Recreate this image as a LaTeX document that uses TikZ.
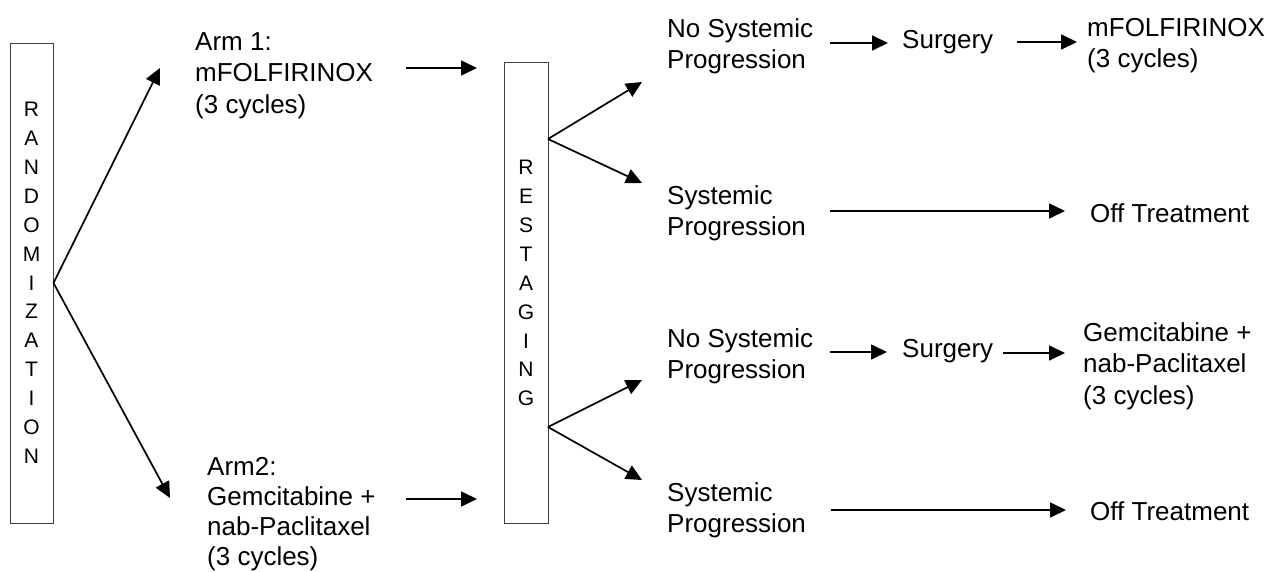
\documentclass[tikz,border=0pt]{standalone}
\usepackage{fontspec}
\setmainfont{Liberation Sans}
\usetikzlibrary{arrows.meta}
\tikzset{
  label text/.style={anchor=north west, inner sep=0pt, align=left,
    font=\fontsize{26}{31.5}\selectfont},
  letter stack/.style={anchor=north, inner sep=0pt, align=center,
    font=\fontsize{21}{28.9}\selectfont},
  frame/.style={draw=black!75, line width=1pt, inner sep=0pt},
  flow/.style={line width=1.7pt, -{Triangle[length=16pt,width=15pt]}},
}
\begin{document}
\begin{tikzpicture}[x=1pt,y=-1pt]
\useasboundingbox (0,0) rectangle (1269,571);

% randomization column
\node[frame, minimum width=43pt, minimum height=480pt] (rand) at (31.5,283) {};
\node[letter stack] (randtxt) at (31.5,102) {R\\A\\N\\D\\O\\M\\I\\Z\\A\\T\\I\\O\\N};

% restaging column
\node[frame, minimum width=44pt, minimum height=461pt] (rest) at (526,292.5) {};
\node[letter stack] (resttxt) at (526,160) {R\\E\\S\\T\\A\\G\\I\\N\\G};

% treatment arms
\node[label text] (arm1) at (195,32) {Arm 1:\\mFOLFIRINOX\\(3 cycles)};
\node[label text, font=\fontsize{26}{30.2}\selectfont] (arm2) at (207,457)
  {Arm2:\\Gemcitabine +\\nab-Paclitaxel\\(3 cycles)};

% outcomes after restaging
\node[label text] (nsp1) at (667,18) {No Systemic\\Progression};
\node[label text] (surg1) at (902,30) {Surgery};
\node[label text] (mfx) at (1087,18) {mFOLFIRINOX\\(3 cycles)};
\node[label text] (sp1) at (667,185) {Systemic\\Progression};
\node[label text] (off1) at (1090,203) {Off Treatment};
\node[label text] (nsp2) at (667,328) {No Systemic\\Progression};
\node[label text] (surg2) at (902,339) {Surgery};
\node[label text] (gem) at (1083,322) {Gemcitabine +\\nab-Paclitaxel\\(3 cycles)};
\node[label text] (sp2) at (667,482) {Systemic\\Progression};
\node[label text] (off2) at (1090,501) {Off Treatment};

% branch points and arrow ends
\coordinate (rs1) at (548,139);
\coordinate (rs2) at (548,427);
\coordinate (tarm1) at (160,68);
\coordinate (tarm2) at (170,498);
\coordinate (tnsp1) at (642,82);
\coordinate (tsp1) at (642,183);
\coordinate (tnsp2) at (642,380);
\coordinate (tsp2) at (642,480);
\coordinate (a1s) at (406,68);   \coordinate (a1e) at (477,68);
\coordinate (a2s) at (406,499);  \coordinate (a2e) at (477,499);
\coordinate (r1s) at (830,43);   \coordinate (r1e) at (888,43);
\coordinate (r1t) at (1017,42);  \coordinate (r1u) at (1077,42);
\coordinate (r2s) at (830,211);  \coordinate (r2e) at (1065,211);
\coordinate (r3s) at (830,352);  \coordinate (r3e) at (887,352);
\coordinate (r3t) at (1003,353); \coordinate (r3u) at (1065,353);
\coordinate (r4s) at (831,510);  \coordinate (r4e) at (1066,510);

% connectors
\draw[flow] (rand.east) -- (tarm1);
\draw[flow] (rand.east) -- (tarm2);
\draw[flow] (a1s) -- (a1e);
\draw[flow] (a2s) -- (a2e);
\draw[flow] (rs1) -- (tnsp1);
\draw[flow] (rs1) -- (tsp1);
\draw[flow] (rs2) -- (tnsp2);
\draw[flow] (rs2) -- (tsp2);
\draw[flow] (r1s) -- (r1e);
\draw[flow] (r1t) -- (r1u);
\draw[flow] (r2s) -- (r2e);
\draw[flow] (r3s) -- (r3e);
\draw[flow] (r3t) -- (r3u);
\draw[flow] (r4s) -- (r4e);
\end{tikzpicture}
\end{document}
